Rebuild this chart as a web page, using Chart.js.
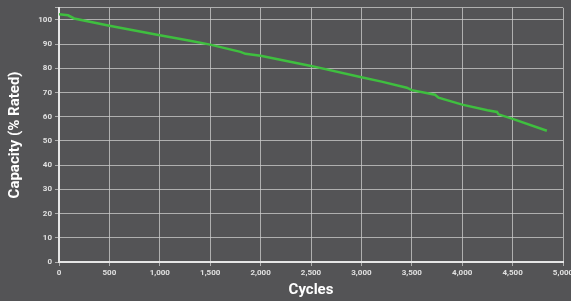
<!DOCTYPE html>
<html>
<head>
<meta charset="utf-8">
<script src="https://cdn.jsdelivr.net/npm/chart.js@4.4.0/dist/chart.umd.min.js"></script>
<style>
  html, body { margin: 0; padding: 0; background: #545456; }
  #wrap { width: 571px; height: 301px; position: relative; }
</style>
</head>
<body>
<div id="wrap"><canvas id="capacityChart"></canvas></div>
<script>
// cycle count vs remaining capacity
const cycles = [0, 90, 150, 500, 1000, 1300, 1500, 1800, 1850, 2000, 2500, 3000, 3200, 3450, 3500, 3730, 3765, 4000, 4250, 4345, 4360, 4500, 4840];
const capacity = [102.3, 101.9, 100.6, 97.6, 93.7, 91.4, 89.8, 86.8, 86.0, 85.2, 81.0, 76.3, 74.5, 72.0, 71.0, 69.1, 67.9, 65.0, 62.7, 62.0, 61.0, 59.1, 54.2];

const gridColor = 'rgba(205, 205, 205, 0.75)';
const axisColor = '#e6e6e6';
const tickColor = '#e0e0e0';

const points = cycles.map((c, i) => ({ x: c, y: capacity[i] }));

new Chart(document.getElementById('capacityChart').getContext('2d'), {
    type: 'line',
    data: {
        datasets: [{
            data: points,
            borderColor: '#3fbf3f',
            borderWidth: 2.5,
            pointRadius: 0,
            tension: 0,
            fill: false
        }]
    },
    options: {
        responsive: true,
        maintainAspectRatio: false,
        animation: false,
        layout: { padding: { top: 5, right: 8, left: 0, bottom: 0 } },
        plugins: {
            legend: { display: false },
            tooltip: { enabled: false }
        },
        scales: {
            x: {
                type: 'linear',
                min: 0,
                max: 5000,
                ticks: {
                    stepSize: 500,
                    color: tickColor,
                    padding: 2,
                    maxRotation: 0,
                    font: { family: 'Roboto', size: 8, weight: 'bold' },
                    callback: v => v.toLocaleString('en-US')
                },
                grid: { color: gridColor, lineWidth: 1, tickLength: 4 },
                border: { color: axisColor, width: 2 },
                title: {
                    display: true,
                    text: 'Cycles',
                    color: '#ffffff',
                    padding: { top: 4, bottom: 2 },
                    font: { family: 'Roboto', size: 15, weight: 'bold' }
                },
                afterFit: scale => {
                    scale.height = 39;
                    // let the 5,000 label run off the edge like the original
                    scale.paddingLeft = 0;
                    scale.paddingRight = 0;
                }
            },
            y: {
                min: 0,
                max: 105,
                ticks: {
                    stepSize: 10,
                    color: tickColor,
                    padding: 3,
                    font: { family: 'Roboto', size: 8, weight: 'bold' },
                    callback: v => (v % 10 === 0 ? v : '')
                },
                grid: { color: gridColor, lineWidth: 1, tickLength: 4 },
                border: { color: axisColor, width: 2 },
                title: {
                    display: true,
                    text: 'Capacity (% Rated)',
                    color: '#ffffff',
                    padding: { top: 6, bottom: 4 },
                    font: { family: 'Roboto', size: 15, weight: 'bold' }
                },
                afterFit: scale => { scale.width = 59; }
            }
        }
    }
});
</script>
</body>
</html>
